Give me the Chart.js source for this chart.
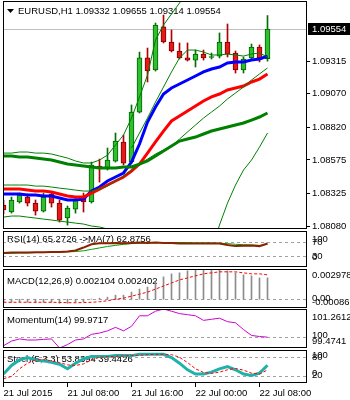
<!DOCTYPE html>
<html>
<head>
<meta charset="utf-8">
<title>EURUSD H1</title>
<script src="https://cdn.jsdelivr.net/npm/chart.js@4.4.1/dist/chart.umd.min.js"></script>
<style>
  html, body { margin: 0; padding: 0; background: #ffffff; }
  #wrap { position: relative; width: 350px; height: 400px; overflow: hidden; }
  #wrap canvas { position: absolute; left: 0; top: 0; }
</style>
</head>
<body>
<div id="wrap">
  <canvas id="c_main" width="350" height="400"></canvas>
  <canvas id="c_rsi" width="350" height="400"></canvas>
  <canvas id="c_macd" width="350" height="400"></canvas>
  <canvas id="c_mom" width="350" height="400"></canvas>
  <canvas id="c_stoch" width="350" height="400"></canvas>
</div>
<script>
// EURUSD H1, 21 Jul 00:00 .. 22 Jul 09:00 (34 bars)
const timeLabels = ['21 Jul 2015', '21 Jul 08:00', '21 Jul 16:00', '22 Jul 00:00', '22 Jul 08:00'];
const timeTickBars = [0, 8, 16, 24, 32];
const priceTicks = [1.09315, 1.09070, 1.08820, 1.08575, 1.08325, 1.08080];

const open  = [1.08237,1.08185,1.08260,1.08297,1.08252,1.08192,1.08320,1.08252,1.08140,1.08207,
               1.08290,1.08260,1.08529,1.08514,1.08566,1.08709,1.08559,1.08933,1.09338,1.09248,
               1.09570,1.09457,1.09390,1.09338,1.09322,1.09367,1.09341,1.09352,1.09457,1.09375,
               1.09248,1.09338,1.09420,1.09332];
const high  = [1.08275,1.08297,1.08327,1.08320,1.08275,1.08327,1.08335,1.08275,1.08230,1.08290,
               1.08327,1.08559,1.08581,1.08664,1.08776,1.08761,1.08986,1.09382,1.09412,1.09599,
               1.09659,1.09547,1.09450,1.09450,1.09397,1.09397,1.09375,1.09525,1.09592,1.09390,
               1.09345,1.09442,1.09435,1.09655];
const low   = [1.08170,1.08177,1.08252,1.08230,1.08162,1.08185,1.08222,1.08110,1.08087,1.08177,
               1.08185,1.08252,1.08409,1.08499,1.08559,1.08537,1.08551,1.08926,1.09158,1.09240,
               1.09450,1.09382,1.09330,1.09315,1.09270,1.09322,1.09330,1.09338,1.09345,1.09225,
               1.09225,1.09322,1.09308,1.09314];
const close = [1.08200,1.08275,1.08312,1.08252,1.08192,1.08297,1.08252,1.08125,1.08215,1.08275,
               1.08260,1.08537,1.08507,1.08574,1.08716,1.08551,1.08933,1.09338,1.09240,1.09584,
               1.09457,1.09390,1.09338,1.09322,1.09367,1.09338,1.09349,1.09457,1.09367,1.09248,
               1.09330,1.09420,1.09338,1.09554];

// moving averages / bands on the price window
const emaFast = [1.08320,1.08320,1.08320,1.08312,1.08312,1.08305,1.08305,1.08290,1.08275,1.08275,
                 1.08282,1.08342,1.08372,1.08417,1.08447,1.08477,1.08559,1.08694,1.08858,1.08971,
                 1.09068,1.09113,1.09143,1.09173,1.09203,1.09233,1.09255,1.09270,1.09300,1.09308,
                 1.09308,1.09322,1.09330,1.09352];
const emaMid  = [1.08357,1.08357,1.08357,1.08349,1.08342,1.08342,1.08335,1.08320,1.08305,1.08297,
                 1.08297,1.08327,1.08357,1.08387,1.08417,1.08447,1.08492,1.08544,1.08626,1.08709,
                 1.08791,1.08866,1.08903,1.08941,1.08978,1.09016,1.09046,1.09068,1.09098,1.09113,
                 1.09128,1.09158,1.09180,1.09218];
const smaSlow = [1.08604,1.08604,1.08596,1.08596,1.08589,1.08581,1.08574,1.08559,1.08544,1.08537,
                 1.08529,1.08522,1.08514,1.08514,1.08514,1.08522,1.08522,1.08544,1.08567,1.08604,
                 1.08641,1.08679,1.08716,1.08731,1.08746,1.08769,1.08791,1.08806,1.08821,1.08836,
                 1.08851,1.08873,1.08896,1.08926];
const bandUpper = [1.08626,1.08626,1.08634,1.08634,1.08626,1.08626,1.08619,1.08604,1.08589,1.08567,
                   1.08552,1.08552,1.08574,1.08611,1.08686,1.08761,1.08888,1.09046,1.09210,1.09472,
                   1.09584,1.09667,1.09749,1.09832,1.09884,1.09921,1.09936,1.09951,1.09951,1.09936,
                   1.09921,1.09921,1.09906,1.09906];
const bandMid   = [1.08387,1.08387,1.08387,1.08387,1.08379,1.08379,1.08372,1.08364,1.08357,1.08349,
                   1.08342,1.08342,1.08357,1.08379,1.08417,1.08454,1.08499,1.08544,1.08581,1.08619,
                   1.08649,1.08679,1.08731,1.08784,1.08836,1.08888,1.08933,1.08978,1.09031,1.09076,
                   1.09120,1.09173,1.09218,1.09263];
const bandLower = [1.08147,1.08155,1.08155,1.08147,1.08140,1.08132,1.08125,1.08117,1.08110,1.08102,
                   1.08095,1.08080,1.08073,1.08058,1.08035,1.07990,1.07938,1.07841,1.07751,1.07638,
                   1.07564,1.07526,1.07526,1.07564,1.07638,1.07751,1.07900,1.08088,1.08252,1.08387,
                   1.08499,1.08574,1.08671,1.08776];
const maThin = [null,null,null,null,null,null,null,null,null,null,null,null,null,null,null,null,
                1.08664,1.08776,1.08888,1.09008,1.09120,1.09233,1.09338,1.09397,1.09397,1.09382,
                1.09360,1.09360,1.09367,1.09360,1.09352,1.09367,1.09375,1.09345];

// sub windows
const rsi   = [39,40,40,40,41,41,42,42,43,46, 54,63,66,66,67,66,67,68,67,68,
               67,67,65,65,65,65,65,65,61,58, 59,60,58,65.2726];
const rsiMa = [38,38,39,39,40,40,41,41,42,43, 45,49,53,57,60,63,65,66,67,67,
               68,68,68,68,67,67,67,66,65,63, 62,61,60,62.8756];
const macdMain   = [-0.00035,-0.0003,-0.00025,-0.0003,-0.00035,-0.0003,-0.0003,-0.0004,-0.0004,-0.0003,
                    -0.00025,0.00002,0.0001,0.0002,0.0004,0.0004,0.0007,0.0010,0.0012,0.0017,
                    0.0022,0.0025,0.0026,0.0028,0.0029,0.002978,0.0029,0.0029,0.0028,0.0026,
                    0.0024,0.0023,0.0021,0.002104];
const macdSignal = [-0.0003,-0.0003,-0.0003,-0.0003,-0.0003,-0.0003,-0.0003,-0.00032,-0.00034,-0.00035,
                    -0.00033,-0.0003,-0.00025,-0.00015,0.0000,0.0001,0.0003,0.0005,0.0007,0.0010,
                    0.0013,0.0016,0.0019,0.0021,0.0023,0.0025,0.0026,0.0027,0.0027,0.0027,
                    0.0026,0.0025,0.0025,0.002402];
const momentum = [99.58,99.79,99.89,99.84,99.84,99.87,99.89,99.4741,99.63,99.84,
                  99.89,100.10,100.16,100.26,100.42,100.26,100.47,100.95,100.95,101.16,
                  101.2612,101.16,101.05,101.00,100.95,100.74,100.79,100.84,100.68,100.63,
                  100.32,100.05,100.00,99.9717];
const stochMain   = [27,53,70,77,70,67,63,57,43,60, 73,80,80,80,83,83,83,87,87,87,
                     87,77,60,40,27,27,33,43,50,40, 27,23,30,53.8394];
const stochSignal = [13,20,43,60,70,71,67,62,55,53, 58,70,78,80,81,82,83,84,86,87,
                     87,86,78,62,43,32,29,33,40,44, 39,30,27,39.4426];

const priceRange = [1.08058, 1.09764];
const macdRange  = [-0.000866, 0.002978];
const momRange   = [99.4741, 101.2612];

const FONT_FAMILY = "'Liberation Sans', Arial, sans-serif";
const FONT = "9.5px " + FONT_FAMILY;
Chart.defaults.font.family = FONT_FAMILY;
Chart.defaults.font.size = 9.5;
Chart.defaults.color = '#000';

const last = close.length - 1;
const xy = arr => arr.map((v, i) => ({ x: i, y: v }));
const bull = close.map((c, i) => c >= open[i]);

// 8 px per bar, bar 0 at x = 3.5
const X_MIN = -0.0625, X_MAX = 37.9375;

function hiddenX() {
  return { type: 'linear', display: false, min: X_MIN, max: X_MAX, offset: false, grid: { offset: false } };
}
function hiddenY(range) {
  return { type: 'linear', display: false, min: range[0], max: range[1], beginAtZero: false };
}

// border, dashed levels, caption and right labels for each window
const panelPlugin = {
  id: 'panel',
  beforeDatasetsDraw(chart, args, o) {
    const a = chart.chartArea, ys = chart.scales.y, ctx = chart.ctx;
    ctx.save();
    ctx.strokeStyle = '#a0a0a0';
    ctx.lineWidth = 1;
    ctx.setLineDash([3, 3]);
    (o.levels || []).forEach(v => {
      const py = Math.round(ys.getPixelForValue(v)) + 0.5;
      ctx.beginPath(); ctx.moveTo(a.left, py); ctx.lineTo(a.right, py); ctx.stroke();
    });
    ctx.setLineDash([]);
    ctx.font = FONT;
    ctx.fillStyle = '#000';
    ctx.textBaseline = 'middle';
    ctx.textAlign = 'left';
    if (o.caption) ctx.fillText(o.caption, a.left + 4, a.top + o.captionDy);
    ctx.restore();
  },
  afterDraw(chart, args, o) {
    const a = chart.chartArea, ys = chart.scales.y, ctx = chart.ctx;
    ctx.save();
    ctx.strokeStyle = '#000';
    ctx.lineWidth = 1;
    ctx.strokeRect(a.left + 0.5, a.top + 0.5, a.right - a.left - 1, a.bottom - a.top - 1);
    ctx.font = FONT;
    ctx.fillStyle = '#000';
    ctx.textBaseline = 'middle';
    ctx.textAlign = 'left';
    (o.sideLabels || []).forEach(l => {
      ctx.fillText(l.text, a.right + 5, ys.getPixelForValue(l.value) + l.dy);
    });
    ctx.restore();
  }
};

// title, bid line and bid box of the price window
const mainDecor = {
  id: 'mainDecor',
  beforeDatasetsDraw(chart) {
    const a = chart.chartArea, ys = chart.scales.y, ctx = chart.ctx;
    const py = Math.round(ys.getPixelForValue(close[last])) + 0.5;
    ctx.save();
    ctx.strokeStyle = '#c0c0c0';
    ctx.lineWidth = 1;
    ctx.beginPath(); ctx.moveTo(a.left, py); ctx.lineTo(a.right, py); ctx.stroke();
    ctx.fillStyle = '#000';
    ctx.beginPath(); ctx.moveTo(7, 9); ctx.lineTo(14, 9); ctx.lineTo(10.5, 13); ctx.closePath(); ctx.fill();
    ctx.font = FONT;
    ctx.textBaseline = 'middle';
    ctx.textAlign = 'left';
    const t = 'EURUSD,H1 ' + [open[last], high[last], low[last], close[last]].map(v => v.toFixed(5)).join(' ');
    ctx.fillText(t, 18, 11);
    ctx.restore();
  },
  afterDraw(chart) {
    const ys = chart.scales.y, ctx = chart.ctx;
    const py = Math.round(ys.getPixelForValue(close[last]));
    ctx.save();
    ctx.fillStyle = '#000';
    ctx.fillRect(308, py - 6, 42, 12);
    ctx.fillStyle = '#fff';
    ctx.font = FONT;
    ctx.textBaseline = 'middle';
    ctx.fillText(close[last].toFixed(5), 312, py + 0.5);
    ctx.restore();
  }
};

const thinLine = (data, color, width, extra) => Object.assign({
  type: 'line', data: xy(data), borderColor: color, borderWidth: width,
  pointRadius: 0, tension: 0, fill: false, order: 0
}, extra || {});

// ---------- price window ----------
new Chart(document.getElementById('c_main'), {
  type: 'bar',
  data: {
    datasets: [
      thinLine(bandUpper, '#008000', 1),
      thinLine(bandMid, '#008000', 1),
      thinLine(bandLower, '#008000', 1),
      thinLine(maThin, '#008000', 1),
      thinLine(smaSlow, '#008000', 3),
      thinLine(emaMid, '#ff0000', 3),
      thinLine(emaFast, '#0000ff', 3),
      {
        type: 'bar', order: 3, grouped: false, barThickness: 1,
        data: close.map((c, i) => ({ x: i, y: [low[i], high[i]] })),
        backgroundColor: bull.map(b => b ? '#007000' : '#b00000')
      },
      {
        type: 'bar', order: 2, grouped: false, barThickness: 5, minBarLength: 1,
        data: close.map((c, i) => ({ x: i, y: [open[i], c] })),
        backgroundColor: bull.map(b => b ? '#2ec02e' : '#e81818'),
        borderColor: bull.map(b => b ? '#006000' : '#800000'),
        borderWidth: 1, borderSkipped: false
      }
    ]
  },
  options: {
    responsive: false,
    animation: false,
    events: [],
    layout: { padding: { top: 1, bottom: 171, left: 3, right: 0 } },
    scales: {
      x: hiddenX(),
      y: {
        type: 'linear', position: 'right', min: priceRange[0], max: priceRange[1], beginAtZero: false,
        afterBuildTicks: s => { s.ticks = priceTicks.map(v => ({ value: v })); },
        afterFit: s => { s.width = 43; s.paddingTop = 0; s.paddingBottom = 0; },
        ticks: { padding: 2, color: '#000', callback: v => v.toFixed(5) },
        grid: { drawOnChartArea: false, drawTicks: true, tickLength: 3, color: '#000' },
        border: { display: false }
      }
    },
    plugins: { legend: { display: false }, tooltip: { enabled: false }, panel: {} }
  },
  plugins: [panelPlugin, mainDecor]
});

// ---------- RSI ----------
new Chart(document.getElementById('c_rsi'), {
  type: 'line',
  data: {
    datasets: [
      thinLine(rsiMa, '#00a000', 1, { order: 1 }),
      thinLine(rsi, '#8b2200', 2, { order: 0 })
    ]
  },
  options: {
    responsive: false, animation: false, events: [],
    layout: { padding: { top: 231, bottom: 133, left: 3, right: 43 } },
    scales: { x: hiddenX(), y: hiddenY([0, 100]) },
    plugins: {
      legend: { display: false }, tooltip: { enabled: false },
      panel: {
        levels: [70, 30],
        caption: 'RSI(14) ' + rsi[last].toFixed(4) + ' ->MA(7) ' + rsiMa[last].toFixed(4),
        captionDy: 8,
        sideLabels: [
          { text: '100', value: 100, dy: 8 },
          { text: '70', value: 70, dy: 1 },
          { text: '30', value: 30, dy: 0 },
          { text: '0', value: 0, dy: -10 }
        ]
      }
    }
  },
  plugins: [panelPlugin]
});

// ---------- MACD ----------
new Chart(document.getElementById('c_macd'), {
  type: 'bar',
  data: {
    datasets: [
      thinLine(macdSignal, '#ff0000', 1, { borderDash: [3, 2], order: 0 }),
      {
        type: 'bar', order: 1, grouped: false, barThickness: 1,
        data: xy(macdMain), backgroundColor: '#8c8c8c'
      }
    ]
  },
  options: {
    responsive: false, animation: false, events: [],
    layout: { padding: { top: 269, bottom: 92, left: 3, right: 43 } },
    scales: { x: hiddenX(), y: hiddenY(macdRange) },
    plugins: {
      legend: { display: false }, tooltip: { enabled: false },
      panel: {
        levels: [0],
        caption: 'MACD(12,26,9) ' + macdMain[last].toFixed(6) + ' ' + macdSignal[last].toFixed(6),
        captionDy: 12,
        sideLabels: [
          { text: macdRange[1].toFixed(6), value: macdRange[1], dy: 6 },
          { text: '0.00', value: 0, dy: -1 },
          { text: macdRange[0].toFixed(6), value: macdRange[0], dy: -6 }
        ]
      }
    }
  },
  plugins: [panelPlugin]
});

// ---------- Momentum ----------
new Chart(document.getElementById('c_mom'), {
  type: 'line',
  data: { datasets: [thinLine(momentum, '#d000d0', 1)] },
  options: {
    responsive: false, animation: false, events: [],
    layout: { padding: { top: 309, bottom: 52, left: 3, right: 43 } },
    scales: { x: hiddenX(), y: hiddenY(momRange) },
    plugins: {
      legend: { display: false }, tooltip: { enabled: false },
      panel: {
        levels: [100],
        caption: 'Momentum(14) ' + momentum[last].toFixed(4),
        captionDy: 11,
        sideLabels: [
          { text: momRange[1].toFixed(4), value: momRange[1], dy: 8 },
          { text: '100', value: 100, dy: -1 },
          { text: momRange[0].toFixed(4), value: momRange[0], dy: -7 }
        ]
      }
    }
  },
  plugins: [panelPlugin]
});

// ---------- Stochastic + time axis ----------
new Chart(document.getElementById('c_stoch'), {
  type: 'line',
  data: {
    datasets: [
      thinLine(stochSignal, '#ff0000', 1, { borderDash: [3, 2], order: 0 }),
      thinLine(stochMain, '#20b2aa', 3, { order: 1 })
    ]
  },
  options: {
    responsive: false, animation: false, events: [],
    layout: { padding: { top: 350, bottom: 0, left: 3, right: 43 } },
    scales: {
      x: {
        type: 'linear', position: 'bottom', min: X_MIN, max: X_MAX, offset: false,
        afterBuildTicks: s => { s.ticks = timeTickBars.map(v => ({ value: v })); },
        afterFit: s => { s.height = 17; s.paddingLeft = 0; s.paddingRight = 0; },
        ticks: {
          autoSkip: false, maxRotation: 0, minRotation: 0, align: 'start', padding: 1, color: '#000',
          callback: (v, i) => timeLabels[i]
        },
        grid: { offset: false, drawOnChartArea: false, drawTicks: true, tickLength: 4, color: '#000' },
        border: { display: false }
      },
      y: hiddenY([0, 100])
    },
    plugins: {
      legend: { display: false }, tooltip: { enabled: false },
      panel: {
        levels: [80, 20],
        caption: 'Stoch(5,3,3) ' + stochMain[last].toFixed(4) + ' ' + stochSignal[last].toFixed(4),
        captionDy: 9,
        sideLabels: [
          { text: '100', value: 100, dy: 5 },
          { text: '80', value: 80, dy: 1 },
          { text: '20', value: 20, dy: -1 },
          { text: '0', value: 0, dy: -10 }
        ]
      }
    }
  },
  plugins: [panelPlugin]
});
</script>
</body>
</html>
